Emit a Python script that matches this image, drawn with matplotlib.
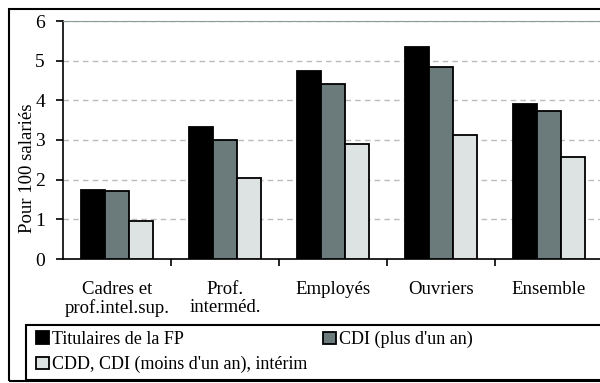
import matplotlib.pyplot as plt
import numpy as np
from matplotlib.patches import Rectangle

categories = ['Cadres et\nprof.intel.sup.', 'Prof.\ninterméd.', 'Employés', 'Ouvriers', 'Ensemble']
titulaires = [1.73, 3.34, 4.75, 5.35, 3.92]
cdi_long = [1.71, 2.99, 4.42, 4.85, 3.74]
cdd_court = [0.95, 2.04, 2.91, 3.12, 2.56]
series_names = ['Titulaires de la FP', 'CDI (plus d\'un an)', 'CDD, CDI (moins d\'un an), intérim']

plt.rcParams['font.family'] = ['Liberation Serif', 'DejaVu Serif']

fig = plt.figure(figsize=(6, 3.83), dpi=100)
W, H = 600, 383
ax = fig.add_axes([63 / W, 1 - 259 / H, 540 / W, 238 / H])

x = np.arange(len(categories))
w = 0.22
colors = ['#000000', '#6b7b7b', '#dde2e2']
bars = []
for i, (vals, c) in enumerate(zip([titulaires, cdi_long, cdd_court], colors)):
    b = ax.bar(x + (i - 1) * w, vals, w, color=c, edgecolor='black', linewidth=1.3, zorder=3)
    bars.append(b)

ax.set_xlim(-0.5, len(categories) - 0.5)
ax.set_ylim(0, 6)
ax.set_yticks(range(7))
ax.tick_params(axis='y', labelsize=14, length=5, width=1.2, direction='out', pad=8)
ax.set_xticks(x)
ax.set_xticklabels(categories, fontsize=13.5, linespacing=1.05)
ax.tick_params(axis='x', which='major', length=0, pad=16)
ax.set_xticks(np.arange(0.5, len(categories) - 0.5, 1), minor=True)
ax.tick_params(axis='x', which='minor', length=5, width=1.2, direction='out')

ax.yaxis.grid(True, linestyle=(0, (4, 3)), color='#bbbbbb', linewidth=1, zorder=0)
ax.spines['right'].set_visible(False)
ax.spines['top'].set_color('#8a9a9a')
ax.spines['left'].set_linewidth(1.2)
ax.spines['bottom'].set_linewidth(1.2)
ax.set_ylabel('Pour 100 salariés', fontsize=13.5)
ax.yaxis.set_label_coords(-0.05, 0.38)

# outer frame
fig.patches.append(Rectangle((9 / W, 1 - 381 / H), 600 / W, 372 / H, transform=fig.transFigure,
                             fill=False, edgecolor='black', linewidth=1.5))
# legend frame
fig.patches.append(Rectangle((26 / W, 1 - 380 / H), 600 / W, 55 / H, transform=fig.transFigure,
                             fill=False, edgecolor='black', linewidth=1.5))

leg_kw = dict(loc='upper left', fontsize=13, frameon=False, handlelength=0.7, handleheight=0.7,
              handletextpad=0.2, borderaxespad=0, borderpad=0, labelspacing=0.45,
              bbox_transform=fig.transFigure)
fig.legend([bars[0], bars[2]], [series_names[0], series_names[2]],
           bbox_to_anchor=(36 / W, 1 - 331 / H), **leg_kw)
fig.legend([bars[1]], [series_names[1]],
           bbox_to_anchor=(323 / W, 1 - 331 / H), **leg_kw)

fig.savefig('out.png', dpi=100)
